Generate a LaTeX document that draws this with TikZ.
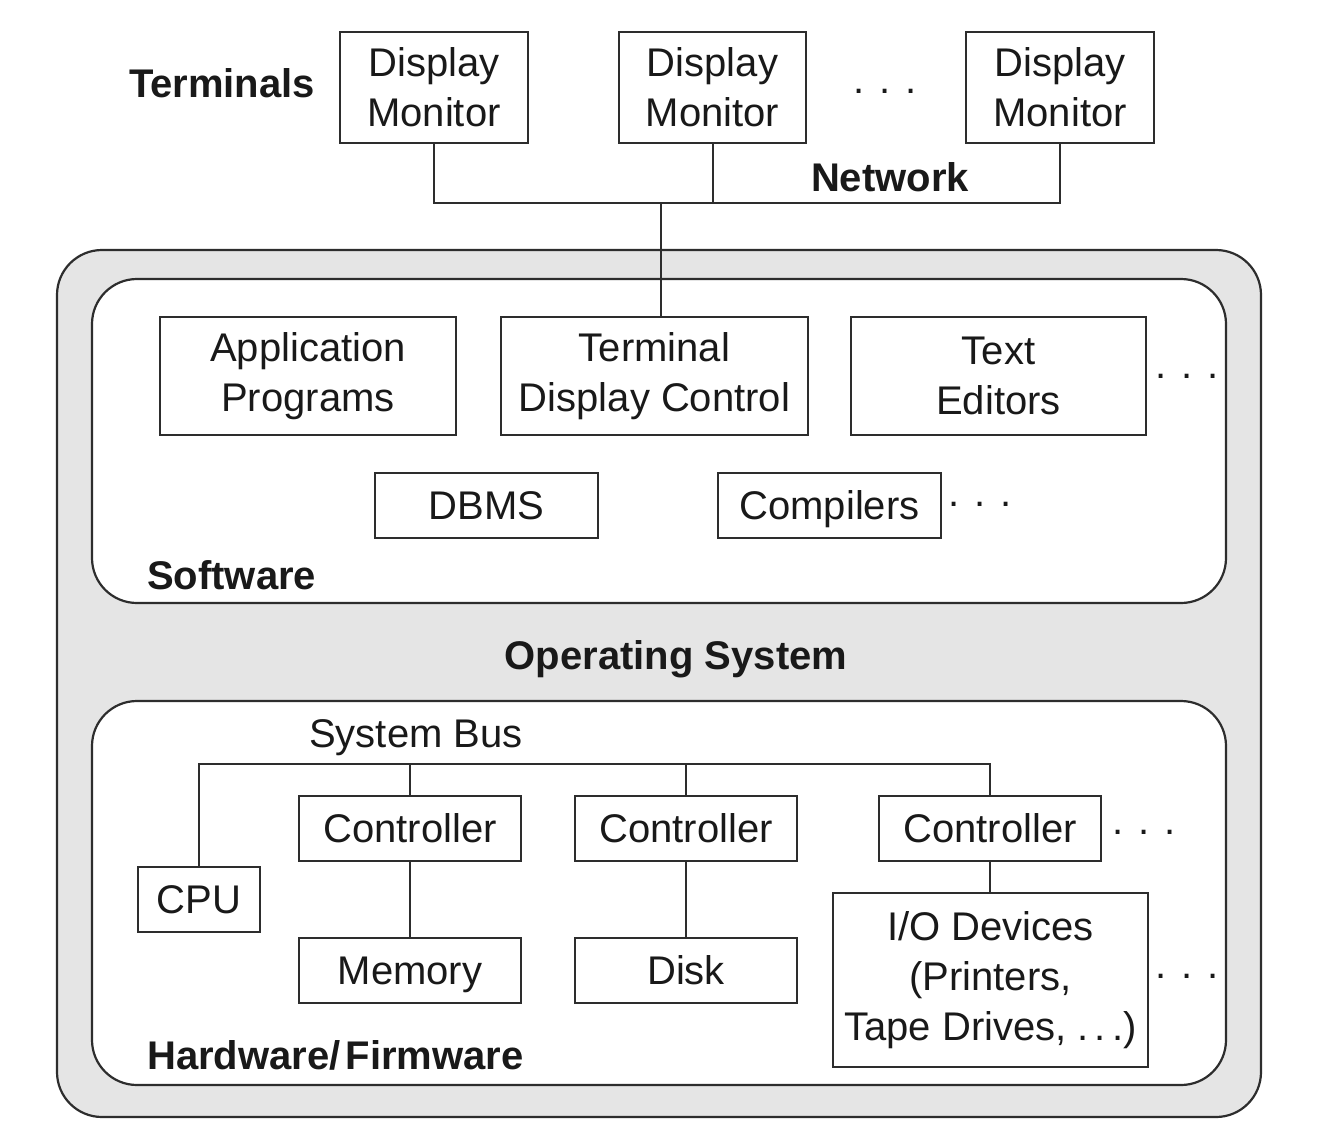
\documentclass[tikz,border=0pt]{standalone}
\usepackage{fontspec}
\setmainfont{Liberation Sans}
\definecolor{osgray}{RGB}{229,229,229}
\definecolor{ink}{RGB}{45,45,45}
\definecolor{txt}{RGB}{25,25,25}
\begin{document}
\begin{tikzpicture}[x=1pt,y=-1pt,
  every node/.style={text=txt, font=\fontsize{40}{50}\selectfont},
  box/.style={draw=ink, line width=2pt, fill=white, inner sep=0pt, align=center},
  onebox/.style={box, text height=28pt, text depth=0pt},
  container/.style={draw=ink, line width=2.2pt, rounded corners=45pt, inner sep=0pt},
  lbl/.style={font=\fontsize{40}{50}\selectfont\bfseries, inner sep=0pt},
  plain/.style={inner sep=0pt},
  dotsn/.style={inner sep=0pt, anchor=base},
  conn/.style={draw=ink, line width=2pt}
]
\useasboundingbox (0,0) rectangle (1320,1140);
\fill[white] (0,0) rectangle (1320,1140);

% containers
\node[container, fill=osgray, minimum width=1204pt, minimum height=867pt] (os) at (659,683.5) {};
\node[container, fill=white, minimum width=1134pt, minimum height=324pt] (sw) at (659,441) {};
\node[container, fill=white, minimum width=1134pt, minimum height=384pt] (hw) at (659,893) {};

% terminals
\node[lbl, anchor=base] (termlbl) at (222,97) {Terminals};
\node[box, minimum width=188pt, minimum height=111pt] (dm1) at (434,87.5) {Display\\Monitor};
\node[box, minimum width=187pt, minimum height=111pt] (dm2) at (712.5,87.5) {Display\\Monitor};
\node[box, minimum width=188pt, minimum height=111pt] (dm3) at (1060,87.5) {Display\\Monitor};
\node[dotsn] (dtop) at (885,93) {. . .};
\node[lbl, anchor=base] (netlbl) at (890,191) {Network};

% software
\node[box, minimum width=296pt, minimum height=118pt] (app) at (308,376) {Application\\Programs};
\node[box, minimum width=307pt, minimum height=118pt] (tdc) at (654.5,376) {Terminal\\Display Control};
\node[box, minimum width=295pt, minimum height=118pt] (te) at (998.5,376) {Text\\Editors};
\node[dotsn] (dsw1) at (1187,378) {. . .};
\node[onebox, minimum width=223pt, minimum height=65pt] (dbms) at (486.5,505.5) {DBMS};
\node[onebox, minimum width=223pt, minimum height=65pt] (comp) at (829.5,505.5) {Compilers};
\node[dotsn] (dsw2) at (980,506) {. . .};
\node[lbl, anchor=base west] (swlbl) at (147,589) {Software};

\node[lbl, anchor=base] (oslbl) at (676,669) {Operating System};

% hardware
\node[plain, anchor=base] (buslbl) at (416,747) {System Bus};
\node[onebox, minimum width=122pt, minimum height=65pt] (cpu) at (199,899.5) {CPU};
\node[onebox, minimum width=222pt, minimum height=65pt] (c1) at (410,828.5) {Controller};
\node[onebox, minimum width=222pt, minimum height=65pt] (c2) at (686,828.5) {Controller};
\node[onebox, minimum width=222pt, minimum height=65pt] (c3) at (990,828.5) {Controller};
\node[dotsn] (dhw1) at (1144,834) {. . .};
\node[onebox, minimum width=222pt, minimum height=65pt] (mem) at (410,970.5) {Memory};
\node[onebox, minimum width=222pt, minimum height=65pt] (disk) at (686,970.5) {Disk};
\node[box, minimum width=315pt, minimum height=174pt] (io) at (990.5,980) {I/O Devices\\(Printers,\\Tape Drives,\ .\kern6pt.\kern6pt.)};
\node[dotsn] (dhw2) at (1187,978) {. . .};
\node[lbl, anchor=base west] (hwlbl) at (147,1069) {Hardware/\kern5pt Firmware};

% network connectors
\coordinate (netL) at (434,203);
\coordinate (netR) at (1060,203);
\coordinate (netJ) at (661,203);
\draw[conn] (dm1.south) -- (netL) -- (netR) -- (dm3.south);
\draw[conn] (dm2.south) -- (dm2.south |- netL);
\draw[conn] (netJ) -- (netJ |- tdc.north);

% bus connectors
\coordinate (busL) at (199,764);
\coordinate (busR) at (990,764);
\draw[conn] (cpu.north) -- (busL) -- (busR) -- (c3.north);
\draw[conn] (c1.north) -- (c1.north |- busL);
\draw[conn] (c2.north) -- (c2.north |- busL);
\draw[conn] (c1.south) -- (mem.north);
\draw[conn] (c2.south) -- (disk.north);
\draw[conn] (c3.south) -- (io.north -| c3.south);
\end{tikzpicture}
\end{document}
